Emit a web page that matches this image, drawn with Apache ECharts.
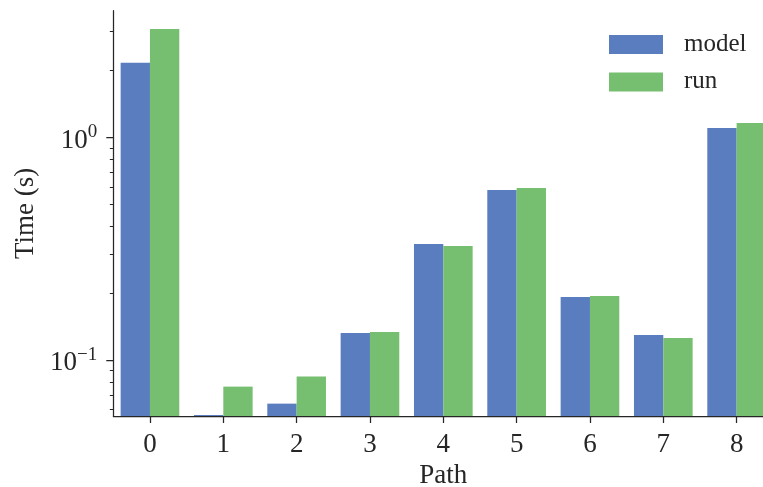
<!DOCTYPE html>
<html>
<head>
<meta charset="utf-8">
<script src="https://cdn.jsdelivr.net/npm/echarts@6/dist/echarts.min.js"></script>
<style>
  html, body { margin: 0; padding: 0; background: #ffffff; }
  #chart { width: 763px; height: 487px; }
</style>
</head>
<body>
<div id="chart"></div>
<script>
// Timing per path, log scale
const paths = ['0', '1', '2', '3', '4', '5', '6', '7', '8'];
const modelTimes = [2.17, 0.0568, 0.0639, 0.1327, 0.333, 0.582, 0.1925, 0.130, 1.105];
const runTimes = [3.08, 0.0762, 0.0845, 0.134, 0.326, 0.594, 0.1945, 0.126, 1.164];

// Axis range and tick positions
const yMin = 0.05623;
const yMax = 3.72;
const majorTicks = [0.1, 1];
const minorTicks = [0.06, 0.07, 0.08, 0.09, 0.2, 0.3, 0.4, 0.5, 0.6, 0.7, 0.8, 0.9, 2, 3];

const ink = '#262626';
const serif = '"Liberation Serif", "DejaVu Serif", serif';
const modelColor = '#5a7dc0';
const runColor = '#76bf71';

const chart = echarts.init(document.getElementById('chart'), null, { renderer: 'canvas' });

function powerLabel(v) {
  const e = Math.round(Math.log10(v));
  const exp = e < 0 ? '\u2212' + Math.abs(e) : String(e);
  return '{b|10}{s|' + exp + '}';
}

// Bars grow up from the bottom of the log axis; each series takes
// 40% of the category band, side by side.
function barRenderer(slot) {
  return function (params, api) {
    const idx = api.value(0);
    const v = api.value(1);
    const top = api.coord([idx, v]);
    const base = api.coord([idx, yMin]);
    const band = api.size([1, 1])[0];
    const w = band * 0.4;
    const x = top[0] + (slot === 0 ? -w : 0);
    return {
      type: 'rect',
      shape: { x: x, y: top[1], width: w, height: base[1] - top[1] },
      style: { fill: api.visual('color') }
    };
  };
}

function barSeries(name, values, color, slot) {
  return {
    name: name,
    type: 'custom',
    coordinateSystem: 'cartesian2d',
    yAxisIndex: 0,
    data: values.map(function (v, i) { return [i, v]; }),
    encode: { x: 0, y: 1 },
    itemStyle: { color: color },
    renderItem: barRenderer(slot),
    clip: false
  };
}

chart.setOption({
  animation: false,
  backgroundColor: '#ffffff',
  textStyle: { fontFamily: serif, color: ink },
  grid: { left: 113.3, top: 10.7, width: 660, height: 405.3, containLabel: false, outerBoundsMode: 'none' },
  legend: {
    data: ['model', 'run'],
    orient: 'vertical',
    left: 604,
    top: 27,
    icon: 'rect',
    itemWidth: 54,
    itemHeight: 19,
    itemGap: 12.4,
    textStyle: { fontFamily: serif, fontSize: 25, color: ink, lineHeight: 19, padding: [0, 0, 0, 16] }
  },
  xAxis: {
    type: 'category',
    data: paths,
    name: 'Path',
    nameLocation: 'middle',
    nameGap: 45,
    nameTextStyle: { fontFamily: serif, fontSize: 27, color: ink },
    axisLine: { show: true, lineStyle: { color: ink, width: 1.25 } },
    axisTick: { show: true, alignWithLabel: true, length: 7, lineStyle: { color: ink, width: 1.25 } },
    axisLabel: { fontFamily: serif, fontSize: 27, color: ink, margin: 15 },
    splitLine: { show: false }
  },
  yAxis: [
    {
      type: 'log',
      logBase: 10,
      min: yMin,
      max: yMax,
      name: 'Time (s)',
      nameLocation: 'middle',
      nameGap: 74,
      nameRotate: 90,
      nameTextStyle: { fontFamily: serif, fontSize: 27, color: ink },
      axisLine: { show: true, lineStyle: { color: ink, width: 1.25 } },
      axisTick: { show: true, length: 7, customValues: majorTicks, lineStyle: { color: ink, width: 1.25 } },
      axisLabel: {
        customValues: majorTicks,
        margin: 16,
        formatter: powerLabel,
        rich: {
          b: { fontFamily: serif, fontSize: 27, color: ink, lineHeight: 30, padding: [6, 0, 0, 0] },
          s: { fontFamily: serif, fontSize: 19, color: ink, verticalAlign: 'top', lineHeight: 30 }
        }
      },
      splitLine: { show: false }
    },
    {
      type: 'log',
      logBase: 10,
      min: yMin,
      max: yMax,
      position: 'left',
      axisLine: { show: false },
      axisTick: { show: true, length: 3.5, customValues: minorTicks, lineStyle: { color: ink, width: 1 } },
      axisLabel: { show: false },
      splitLine: { show: false }
    }
  ],
  series: [
    barSeries('model', modelTimes, modelColor, 0),
    barSeries('run', runTimes, runColor, 1)
  ]
});
</script>
</body>
</html>
